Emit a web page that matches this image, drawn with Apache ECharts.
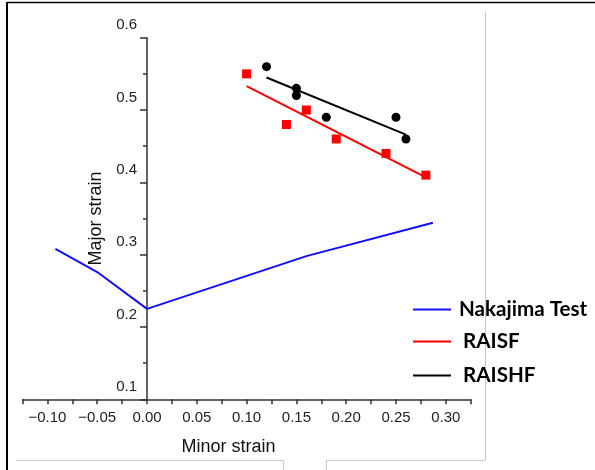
<!DOCTYPE html>
<html>
<head>
<meta charset="utf-8">
<script src="https://cdn.jsdelivr.net/npm/echarts@6/dist/echarts.min.js"></script>
<style>
  html, body { margin: 0; padding: 0; background: #fff; }
  #chart { width: 595px; height: 470px; }
</style>
</head>
<body>
<div id="chart"></div>
<script>
// Forming limit data: minor strain (x) vs major strain (y)
const nakajimaTest = [[-0.092, 0.308], [-0.05, 0.276], [0.0, 0.225], [0.16, 0.298], [0.287, 0.344]];

const raisfPoints = [[0.10, 0.55], [0.14, 0.48], [0.16, 0.50], [0.19, 0.46], [0.24, 0.44], [0.28, 0.41]];
const raisfFit = [[0.10, 0.533], [0.28, 0.407]];

const raishfPoints = [[0.12, 0.56], [0.15, 0.53], [0.15, 0.52], [0.18, 0.49], [0.25, 0.49], [0.26, 0.46]];
const raishfFit = [[0.12, 0.545], [0.26, 0.466]];

// Labelled tick values
const xTickLabels = [-0.10, -0.05, 0.00, 0.05, 0.10, 0.15, 0.20, 0.25, 0.30];
const yTickLabels = [0.1, 0.2, 0.3, 0.4, 0.5, 0.6];

const axisColor = '#333';
const labelFont = 'Liberation Sans, Arial, sans-serif';
const legendFont = 'Lato, "Open Sans", sans-serif';

// plot area edges (px)
const gridLeft = 22.5, gridRight = 124.3, gridTop = 37.7, gridBottom = 70.7;
const xMin = -0.125, xMax = 0.325;
// the vertical axis sits on minor strain = 0
const plotWidth = 595 - gridLeft - gridRight;
const yAxisShift = -plotWidth * (0 - xMin) / (xMax - xMin);

function fmtX(v) {
  const hit = xTickLabels.some(t => Math.abs(t - v) < 1e-6);
  if (!hit) return '';
  const s = Math.abs(v).toFixed(2);
  return v < -1e-9 ? '\u2212' + s : s;
}

const chart = echarts.init(document.getElementById('chart'), null, { renderer: 'canvas' });

function legendAt(name, top, indent) {
  return {
    data: [name],
    orient: 'vertical',
    left: 408,
    top: top,
    icon: 'rect',
    itemWidth: 38,
    itemHeight: 2,
    selectedMode: false,
    textStyle: {
      fontFamily: legendFont,
      fontWeight: 'bold',
      fontSize: 20.6,
      color: '#000',
      padding: [0, 0, 0, indent]
    }
  };
}

chart.setOption({
  animation: false,
  backgroundColor: '#fff',
  grid: { left: gridLeft, right: gridRight, top: gridTop, bottom: gridBottom, containLabel: false, outerBoundsMode: 'none' },
  legend: [
    legendAt('Nakajima Test', 294, 3),
    legendAt('RAISF', 326, 7),
    legendAt('RAISHF', 360, 7)
  ],
  xAxis: {
    type: 'value',
    min: xMin,
    max: xMax,
    interval: 0.025,
    name: 'Minor strain',
    nameLocation: 'middle',
    nameGap: 39,
    nameTextStyle: { fontFamily: labelFont, fontSize: 18, color: '#111', padding: [0, 36, 0, 0] },
    axisLine: { onZero: false, lineStyle: { color: axisColor, width: 1.5 } },
    axisTick: { show: true, inside: false, length: 5, lineStyle: { color: axisColor, width: 1.5 } },
    axisLabel: { formatter: fmtX, fontFamily: labelFont, fontSize: 15, color: '#222', margin: 11, showMinLabel: true, showMaxLabel: true },
    splitLine: { show: false }
  },
  yAxis: {
    type: 'value',
    min: 0.1,
    max: 0.6,
    interval: 0.1,
    offset: yAxisShift,
    name: 'Major strain',
    nameLocation: 'middle',
    nameGap: 36,
    nameTextStyle: { fontFamily: labelFont, fontSize: 18, color: '#111' },
    axisLine: { onZero: false, lineStyle: { color: axisColor, width: 1.5 } },
    axisTick: { show: true, length: 7, lineStyle: { color: axisColor, width: 1.5 } },
    minorTick: { show: true, splitNumber: 2, length: 4, lineStyle: { color: axisColor, width: 1.5 } },
    axisLabel: {
      formatter: v => yTickLabels.some(t => Math.abs(t - v) < 1e-6) ? v.toFixed(1) : '',
      fontFamily: labelFont, fontSize: 15, color: '#222', margin: 10,
      verticalAlign: 'bottom', lineHeight: 25
    },
    splitLine: { show: false }
  },
  series: [
    {
      name: 'Nakajima Test',
      type: 'line',
      data: nakajimaTest,
      showSymbol: false,
      lineStyle: { color: '#1010ff', width: 2 },
      itemStyle: { color: '#1010ff' }
    },
    {
      name: 'RAISF',
      type: 'line',
      data: raisfFit,
      showSymbol: false,
      lineStyle: { color: '#ff0000', width: 2 },
      itemStyle: { color: '#ff0000' }
    },
    {
      name: 'RAISHF',
      type: 'line',
      data: raishfFit,
      showSymbol: false,
      lineStyle: { color: '#000', width: 2 },
      itemStyle: { color: '#000' }
    },
    {
      name: 'RAISF points',
      type: 'scatter',
      data: raisfPoints,
      symbol: 'rect',
      symbolSize: 9,
      itemStyle: { color: '#ff0000', opacity: 1 }
    },
    {
      name: 'RAISHF points',
      type: 'scatter',
      data: raishfPoints,
      symbol: 'circle',
      symbolSize: 9,
      itemStyle: { color: '#000', opacity: 1 }
    }
  ],
  graphic: [
    // outer frame edges
    { type: 'line', shape: { x1: 7, y1: 2.5, x2: 595, y2: 2.5 }, style: { stroke: '#000', lineWidth: 1.5 }, silent: true },
    { type: 'line', shape: { x1: 7, y1: 2, x2: 7, y2: 470 }, style: { stroke: '#000', lineWidth: 2 }, silent: true },
    // light grey panel outline
    { type: 'line', shape: { x1: 485.5, y1: 11, x2: 485.5, y2: 460 }, style: { stroke: '#c8c8c8', lineWidth: 1 }, silent: true },
    { type: 'line', shape: { x1: 16, y1: 460.5, x2: 283.5, y2: 460.5 }, style: { stroke: '#c8c8c8', lineWidth: 1 }, silent: true },
    { type: 'line', shape: { x1: 283.5, y1: 460.5, x2: 283.5, y2: 470 }, style: { stroke: '#c8c8c8', lineWidth: 1 }, silent: true },
    { type: 'line', shape: { x1: 326.5, y1: 460.5, x2: 485.5, y2: 460.5 }, style: { stroke: '#c8c8c8', lineWidth: 1 }, silent: true },
    { type: 'line', shape: { x1: 326.5, y1: 460.5, x2: 326.5, y2: 470 }, style: { stroke: '#c8c8c8', lineWidth: 1 }, silent: true }
  ]
});
</script>
</body>
</html>
